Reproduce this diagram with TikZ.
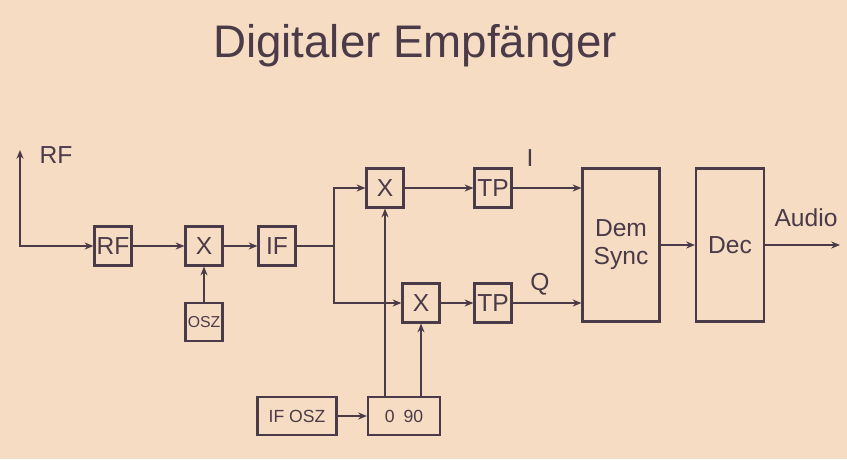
\documentclass[tikz,border=0pt]{standalone}
\usepackage{fontspec}
\setmainfont{Liberation Sans}
\usetikzlibrary{positioning, calc, arrows.meta}

\definecolor{paper}{HTML}{F5DCC2}
\definecolor{ink}{HTML}{4B3A48}

\tikzset{
  blk/.style = {draw=ink, line width=1.2pt, text=ink, inner sep=0pt,
                minimum width=0.74cm, minimum height=0.78cm, font=\fontsize{14}{16}\selectfont},
  sig/.style = {draw=ink, line width=1.1pt, -{Stealth[length=5pt,width=4pt]}},
  wire/.style = {draw=ink, line width=1.1pt},
  lbl/.style = {text=ink, font=\fontsize{14}{16}\selectfont}
}

\begin{document}
\begin{tikzpicture}[x=0.02cm, y=-0.02cm]
  % background
  \fill[paper] (0,0) rectangle (847,459);
  \useasboundingbox (0,0) rectangle (847,459);

  \node[text=ink, font=\fontsize{26}{30}\selectfont] (title) at (415,46) {Digitaler Empfänger};

  % front end
  \coordinate (ant) at (20,150);
  \node[lbl] (rflbl) at (56,155) {RF};
  \node[blk] (rf) at (113,246) {RF};
  \node[blk] (mix) at (204,246) {X};
  \node[blk, minimum height=0.76cm, font=\fontsize{9}{10}\selectfont] (osz) at (204,322) {OSZ};
  \node[blk] (if) at (277,246) {IF};

  % I/Q branch
  \coordinate (split) at (334,246);
  \node[blk] (xi) at (385,188) {X};
  \node[blk] (xq) at (421,303) {X};
  \node[blk] (tpi) at (493,188) {TP};
  \node[blk] (tpq) at (493,303) {TP};
  \node[lbl] (ilbl) at (530,158) {I};
  \node[lbl] (qlbl) at (540,284) {Q};

  \node[blk, minimum width=1.58cm, minimum height=0.76cm, font=\fontsize{10}{12}\selectfont] (ifosz) at (297,416) {IF OSZ};
  \node[blk, minimum width=1.44cm, minimum height=0.76cm, font=\fontsize{10}{12}\selectfont] (ph) at (404,416) {0\hspace{0.5em}90};

  % back end
  \node[blk, minimum width=1.54cm, minimum height=3.06cm, align=center] (dem) at (621,245) {Dem\\Sync};
  \node[blk, minimum width=1.36cm, minimum height=3.06cm] (dec) at (730,245) {Dec};
  \coordinate (out) at (840,245);
  \node[lbl] (audio) at (806,218) {Audio};

  % connections
  \draw[sig, {Stealth[length=5pt,width=4pt]}-{Stealth[length=5pt,width=4pt]}] (ant) |- (rf.west);
  \draw[sig] (rf) -- (mix);
  \draw[sig] (osz) -- (mix);
  \draw[sig] (mix) -- (if);
  \draw[wire] (if) -- (split);
  \draw[sig] (split) |- (xi.west);
  \draw[sig] (split) |- (xq.west);
  \draw[sig] (xi) -- (tpi);
  \draw[sig] (xq) -- (tpq);
  \draw[sig] (tpi.east) -- (tpi.east -| dem.west);
  \draw[sig] (tpq.east) -- (tpq.east -| dem.west);
  \draw[sig] (ifosz) -- (ph);
  \draw[sig] (xi.south |- ph.north) -- (xi.south);
  \draw[sig] (xq.south |- ph.north) -- (xq.south);
  \draw[sig] (dem) -- (dec);
  \draw[sig] (dec.east) -- (out);
\end{tikzpicture}
\end{document}
